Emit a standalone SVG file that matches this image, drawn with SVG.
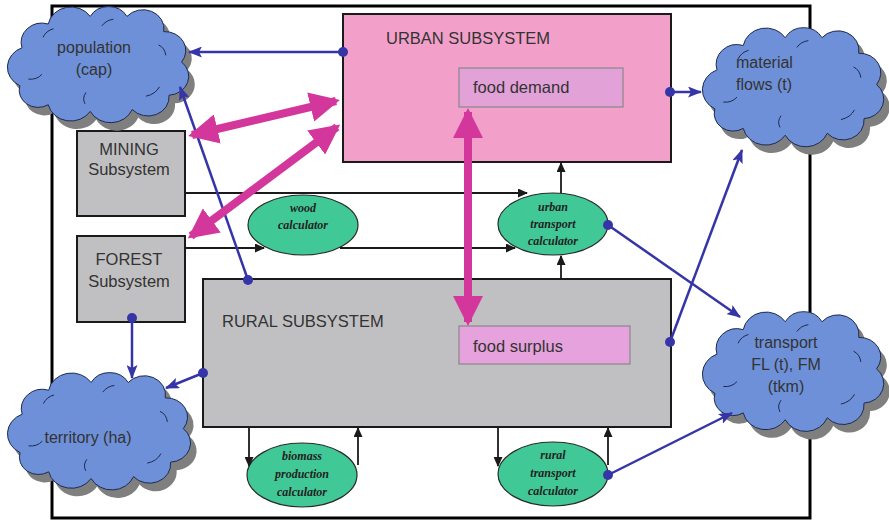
<svg xmlns="http://www.w3.org/2000/svg" xmlns:xlink="http://www.w3.org/1999/xlink" width="889" height="523" viewBox="0 0 889 523">
  <style>
    .lbl { font-family: "Liberation Sans", Arial, sans-serif; font-size: 16px; fill: #333; }
    .big { font-size: 16.5px; }
    .calc { font-family: "Liberation Serif", "Times New Roman", serif; font-style: italic; font-weight: bold; font-size: 12px; fill: #222; text-anchor: middle; }
    .box { stroke: #1a1a1a; stroke-width: 2; }
    .inner { stroke: #888; stroke-width: 1.2; }
    .calcshape { fill: #40c896; stroke: #2a2a2a; stroke-width: 1.2; }
    .blue { stroke: #3535a8; stroke-width: 2.5; fill: none; }
    .dot { fill: #3535a8; }
    .black { stroke: #1a1a1a; stroke-width: 1.8; fill: none; }
    .mag { stroke: #d4379c; stroke-width: 8; fill: none; }
  </style>
  <defs>
    <g id="cloud">
      <path vector-effect="non-scaling-stroke" d="M 20,45 A 20,20 0 0 1 45,20 A 22,22 0 0 1 85,12 A 20,20 0 0 1 120,12 A 20,20 0 0 1 155,28 A 20,20 0 0 1 172,60 A 20,20 0 0 1 160,95 A 20,20 0 0 1 125,110 A 22,22 0 0 1 85,112 A 22,22 0 0 1 45,105 A 18,18 0 0 1 18,85 A 22,22 0 0 1 20,45 Z"/>
    </g>
    <g id="curls" fill="none" stroke="#1e2a50" stroke-width="1">
      <path vector-effect="non-scaling-stroke" d="M 40,34 q 3,-7 10,-9"/>
      <path vector-effect="non-scaling-stroke" d="M 96,22 q 4,-6 11,-7"/>
      <path vector-effect="non-scaling-stroke" d="M 150,42 q 6,3 7,11"/>
      <path vector-effect="non-scaling-stroke" d="M 138,96 q 9,-2 13,-10"/>
      <path vector-effect="non-scaling-stroke" d="M 80,104 q -3,-6 1,-12"/>
      <path vector-effect="non-scaling-stroke" d="M 26,78 q 8,1 13,-5"/>
    </g>
    <marker id="magHead" markerUnits="userSpaceOnUse" markerWidth="30" markerHeight="30" refX="26" refY="15" orient="auto-start-reverse" viewBox="0 0 30 30">
      <path d="M0,0 L30,15 L0,30 Z" fill="#d4379c"/>
    </marker>
    <marker id="blueHead" markerUnits="userSpaceOnUse" markerWidth="14" markerHeight="11" refX="13" refY="5.5" orient="auto" viewBox="0 0 14 11">
      <path d="M0,0 L14,5.5 L0,11 L3,5.5 Z" fill="#3535a8"/>
    </marker>
    <marker id="blackHead" markerUnits="userSpaceOnUse" markerWidth="10" markerHeight="9" refX="9" refY="4.5" orient="auto" viewBox="0 0 10 9">
      <path d="M0,0 L10,4.5 L0,9 Z" fill="#1a1a1a"/>
    </marker>
  </defs>

  <rect width="889" height="523" fill="#ffffff"/>

  <!-- outer system boundary -->
  <rect id="frame" x="52" y="6" width="758" height="512" fill="none" stroke="#000" stroke-width="3"/>

  <!-- urban subsystem -->
  <g id="urban">
    <rect class="box" x="343" y="14" width="328" height="148" fill="#f2a0ca"/>
    <text class="lbl big" x="386" y="44">URBAN SUBSYSTEM</text>
  </g>
  <g id="food-demand">
    <rect class="inner" x="459" y="68" width="164" height="39" fill="#e2a2d8"/>
    <text class="lbl big" x="473" y="93">food demand</text>
  </g>

  <!-- rural subsystem -->
  <g id="rural">
    <rect class="box" x="203" y="279" width="468" height="148" fill="#c0c0c2"/>
    <text class="lbl big" x="222" y="327">RURAL SUBSYSTEM</text>
  </g>
  <g id="food-surplus">
    <rect class="inner" x="459" y="326" width="171" height="38" fill="#e6a2dc"/>
    <text class="lbl big" x="473" y="352">food surplus</text>
  </g>

  <!-- mining and forest subsystems -->
  <g id="mining">
    <rect class="box" x="77" y="131" width="108" height="85" fill="#c0c0c2"/>
    <text class="lbl big" x="129" y="155" text-anchor="middle">MINING</text>
    <text class="lbl big" x="129" y="175" text-anchor="middle">Subsystem</text>
  </g>
  <g id="forest">
    <rect class="box" x="77" y="236" width="108" height="86" fill="#c0c0c2"/>
    <text class="lbl big" x="129" y="265" text-anchor="middle">FOREST</text>
    <text class="lbl big" x="129" y="287" text-anchor="middle">Subsystem</text>
  </g>

  <!-- output clouds -->
  <g id="population">
    <use xlink:href="#cloud" href="#cloud" transform="translate(7,13) scale(1.05,0.95)" fill="#7f7f7f" stroke="none"/>
    <use xlink:href="#cloud" href="#cloud" transform="translate(1,5) scale(1.05,0.95)" fill="#6e90d8" stroke="#1e2a50" stroke-width="1"/>
    <use xlink:href="#curls" href="#curls" transform="translate(1,5) scale(1.05,0.95)"/>
    <text class="lbl" x="94" y="53" text-anchor="middle">population</text>
    <text class="lbl" x="94" y="75" text-anchor="middle">(cap)</text>
  </g>
  <g id="material-flows">
    <use xlink:href="#cloud" href="#cloud" transform="translate(702,34) scale(1.05,0.975)" fill="#7f7f7f" stroke="none"/>
    <use xlink:href="#cloud" href="#cloud" transform="translate(696,26) scale(1.05,0.975)" fill="#6e90d8" stroke="#1e2a50" stroke-width="1"/>
    <use xlink:href="#curls" href="#curls" transform="translate(696,26) scale(1.05,0.975)"/>
    <text class="lbl" x="736" y="68">material</text>
    <text class="lbl" x="736" y="90">flows (t)</text>
  </g>
  <g id="transport">
    <use xlink:href="#cloud" href="#cloud" transform="translate(702,318) scale(1.05,0.98)" fill="#7f7f7f" stroke="none"/>
    <use xlink:href="#cloud" href="#cloud" transform="translate(696,310) scale(1.05,0.98)" fill="#6e90d8" stroke="#1e2a50" stroke-width="1"/>
    <use xlink:href="#curls" href="#curls" transform="translate(696,310) scale(1.05,0.98)"/>
    <text class="lbl" x="786" y="348" text-anchor="middle">transport</text>
    <text class="lbl" x="786" y="370" text-anchor="middle">FL (t), FM</text>
    <text class="lbl" x="786" y="392" text-anchor="middle">(tkm)</text>
  </g>
  <g id="territory">
    <use xlink:href="#cloud" href="#cloud" transform="translate(7,379) scale(1.06,0.96)" fill="#7f7f7f" stroke="none"/>
    <use xlink:href="#cloud" href="#cloud" transform="translate(1,371) scale(1.06,0.96)" fill="#6e90d8" stroke="#1e2a50" stroke-width="1"/>
    <use xlink:href="#curls" href="#curls" transform="translate(1,371) scale(1.06,0.96)"/>
    <text class="lbl" x="88" y="443" text-anchor="middle">territory (ha)</text>
  </g>

  <!-- calculators -->
  <g id="wood-calculator">
    <ellipse class="calcshape" cx="303" cy="225" rx="55" ry="30"/>
    <text class="calc" x="303" y="212">wood</text>
    <text class="calc" x="303" y="229">calculator</text>
  </g>
  <g id="urban-transport-calculator">
    <ellipse class="calcshape" cx="553" cy="224" rx="55" ry="31"/>
    <text class="calc" x="553" y="211">urban</text>
    <text class="calc" x="553" y="228">transport</text>
    <text class="calc" x="553" y="245">calculator</text>
  </g>
  <g id="biomass-production-calculator">
    <ellipse class="calcshape" cx="302" cy="475" rx="55" ry="32"/>
    <text class="calc" x="302" y="460">biomass</text>
    <text class="calc" x="302" y="478">production</text>
    <text class="calc" x="302" y="496">calculator</text>
  </g>
  <g id="rural-transport-calculator">
    <ellipse class="calcshape" cx="553" cy="474" rx="55" ry="32"/>
    <text class="calc" x="553" y="459">rural</text>
    <text class="calc" x="553" y="477">transport</text>
    <text class="calc" x="553" y="495">calculator</text>
  </g>

  <g id="connectors">
    <!-- black data-flow arrows -->
    <path class="black" d="M185,193 H527" marker-end="url(#blackHead)"/>
    <path class="black" d="M185,248 H264" marker-end="url(#blackHead)"/>
    <path class="black" d="M340,248 H515" marker-end="url(#blackHead)"/>
    <path class="black" d="M561,193 V163" marker-end="url(#blackHead)"/>
    <path class="black" d="M561,279 V256" marker-end="url(#blackHead)"/>
    <path class="black" d="M249,428 V466" marker-end="url(#blackHead)"/>
    <path class="black" d="M358,465 V428" marker-end="url(#blackHead)"/>
    <path class="black" d="M498,428 V466" marker-end="url(#blackHead)"/>
    <path class="black" d="M608,465 V428" marker-end="url(#blackHead)"/>

    <!-- blue output links -->
    <path class="blue" d="M343,52 L189,52" marker-end="url(#blueHead)"/>
    <circle class="dot" cx="343" cy="52" r="5"/>
    <path class="blue" d="M248,280 L180,87" marker-end="url(#blueHead)"/>
    <circle class="dot" cx="248" cy="280" r="5"/>
    <path class="blue" d="M132,318 L132,378" marker-end="url(#blueHead)"/>
    <circle class="dot" cx="132" cy="318" r="5"/>
    <path class="blue" d="M203,373 L166,388" marker-end="url(#blueHead)"/>
    <circle class="dot" cx="203" cy="373" r="5"/>
    <path class="blue" d="M670,92 L701,92" marker-end="url(#blueHead)"/>
    <circle class="dot" cx="670" cy="92" r="5"/>
    <path class="blue" d="M670,342 L742,150" marker-end="url(#blueHead)"/>
    <circle class="dot" cx="670" cy="342" r="5"/>
    <path class="blue" d="M608,225 L740,317" marker-end="url(#blueHead)"/>
    <circle class="dot" cx="608" cy="225" r="5"/>
    <path class="blue" d="M608,475 L732,413" marker-end="url(#blueHead)"/>
    <circle class="dot" cx="608" cy="475" r="5"/>

    <!-- magenta exchange arrows -->
    <path class="mag" d="M192,135 L336,101" marker-start="url(#magHead)" marker-end="url(#magHead)"/>
    <path class="mag" d="M191,236 L337,127" marker-start="url(#magHead)" marker-end="url(#magHead)"/>
    <path class="mag" d="M468,112 L468,322" marker-start="url(#magHead)" marker-end="url(#magHead)"/>
  </g>
</svg>
